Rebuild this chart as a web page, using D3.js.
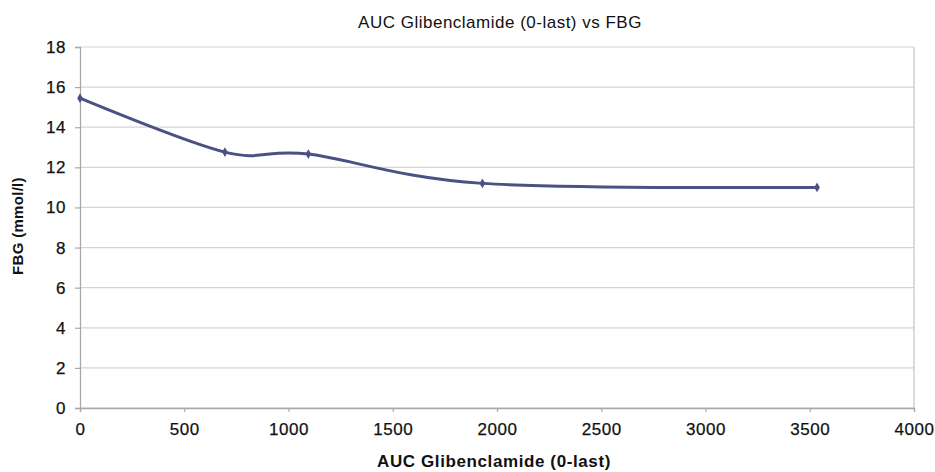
<!DOCTYPE html>
<html>
<head>
<meta charset="utf-8">
<script src="https://cdn.jsdelivr.net/npm/d3@7"></script>
<style>
  html, body { margin: 0; padding: 0; background: #fff; }
  svg { display: block; font-family: "Liberation Sans", Arial, sans-serif; }
</style>
</head>
<body>
<svg id="chart" width="935" height="472"></svg>
<script>
// AUC of glibenclamide (0-last) against fasting blood glucose
const aucValues = [0, 695, 1095, 1930, 3535];
const fbgValues = [15.45, 12.76, 12.66, 11.2, 11.0];
const xTicks = [0, 500, 1000, 1500, 2000, 2500, 3000, 3500, 4000];
const yTicks = [0, 2, 4, 6, 8, 10, 12, 14, 16, 18];

const chartTitle = "AUC Glibenclamide (0-last) vs FBG";
const xTitle = "AUC Glibenclamide (0-last)";
const yTitle = "FBG (mmol/l)";

const svg = d3.select("#chart");
const plotLeft = 80, plotRight = 914, plotTop = 47, plotBottom = 408;

const x = d3.scaleLinear().domain([0, 4000]).range([plotLeft, plotRight]);
const y = d3.scaleLinear().domain([0, 18]).range([plotBottom, plotTop]);

const lineColor = "#4a5283";
const textColor = "#111";

// horizontal gridlines
svg.append("g")
  .selectAll("line")
  .data(yTicks)
  .join("line")
  .attr("x1", plotLeft).attr("x2", plotRight)
  .attr("y1", d => y(d)).attr("y2", d => y(d))
  .attr("stroke", "#d4d4d4")
  .attr("stroke-width", 1.2);

// right edge of plot area
svg.append("line")
  .attr("x1", plotRight).attr("x2", plotRight)
  .attr("y1", plotTop).attr("y2", plotBottom)
  .attr("stroke", "#c4c4c4").attr("stroke-width", 1.2);

// y axis
const yAxis = svg.append("g")
  .attr("transform", `translate(${plotLeft},0)`)
  .call(d3.axisLeft(y).tickValues(yTicks).tickSize(5).tickPadding(9).tickFormat(d3.format("d")));

// x axis
const xAxis = svg.append("g")
  .attr("transform", `translate(0,${plotBottom})`)
  .call(d3.axisBottom(x).tickValues(xTicks).tickSize(4).tickPadding(11).tickFormat(d3.format("d")));

[yAxis, xAxis].forEach(g => {
  g.select(".domain").attr("stroke", "#a8a8a8").attr("stroke-width", 1.3);
  g.selectAll(".tick line").attr("stroke", "#a8a8a8").attr("stroke-width", 1.2);
  g.selectAll(".tick text")
    .attr("fill", textColor)
    .attr("stroke", textColor)
    .attr("stroke-width", 0.25)
    .style("font-family", "\"Liberation Sans\", Arial, sans-serif")
    .style("font-size", "17px")
    .style("letter-spacing", "0.5px");
});

// series line, smoothed
const points = aucValues.map((v, i) => [v, fbgValues[i]]);
const line = d3.line()
  .x(d => x(d[0]))
  .y(d => y(d[1]))
  .curve(d3.curveCatmullRom.alpha(0));

svg.append("path")
  .datum(points)
  .attr("d", line)
  .attr("fill", "none")
  .attr("stroke", lineColor)
  .attr("stroke-width", 3)
  .attr("stroke-linejoin", "round");

// diamond markers
svg.append("g")
  .selectAll("path")
  .data(points)
  .join("path")
  .attr("transform", d => `translate(${x(d[0])},${y(d[1])})`)
  .attr("d", d3.symbol(d3.symbolDiamond, 28)())
  .attr("fill", lineColor);

// titles
svg.append("text")
  .attr("x", 500).attr("y", 28)
  .attr("text-anchor", "middle")
  .attr("fill", textColor)
  .style("font-size", "17px")
  .style("letter-spacing", "0.5px")
  .text(chartTitle);

svg.append("text")
  .attr("x", 494).attr("y", 467)
  .attr("text-anchor", "middle")
  .attr("fill", textColor)
  .style("font-size", "17px")
  .style("font-weight", "bold")
  .style("letter-spacing", "0.6px")
  .text(xTitle);

svg.append("text")
  .attr("transform", "translate(23,226) rotate(-90)")
  .attr("text-anchor", "middle")
  .attr("fill", textColor)
  .style("font-size", "15px")
  .style("font-weight", "bold")
  .style("letter-spacing", "0.3px")
  .text(yTitle);
</script>
</body>
</html>
